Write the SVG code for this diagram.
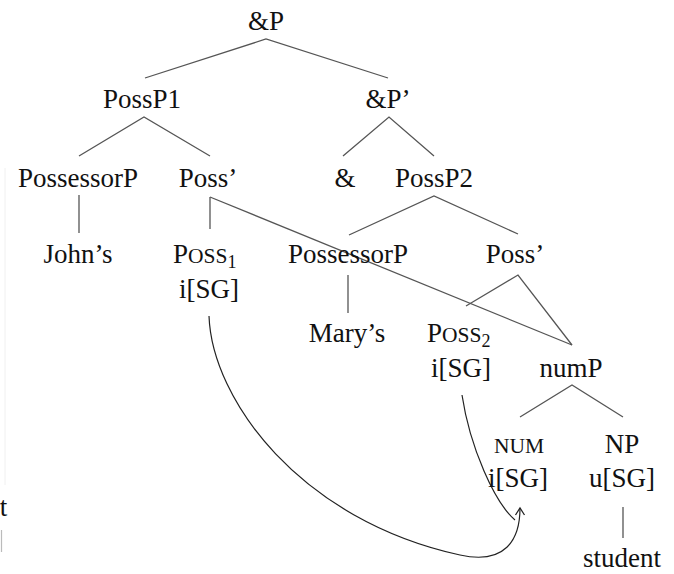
<svg xmlns="http://www.w3.org/2000/svg" width="674" height="574" viewBox="0 0 674 574">
  <style>
    text { font-family: "Liberation Serif", "Times New Roman", serif; font-size: 27px; fill: #111; text-anchor: middle; }
    .sc { font-size: 21.5px; }
    .sub { font-size: 18px; }
    .edge { stroke: #555; stroke-width: 1.3; fill: none; }
    .agree { stroke: #222; stroke-width: 1.2; fill: none; }
  </style>
  <defs>
    <marker id="arrow" markerUnits="userSpaceOnUse" markerWidth="12" markerHeight="12" viewBox="-9 -6 12 12" refX="0" refY="0" orient="auto">
      <path d="M-7,-4.5 L0,0 L-7,4.5" fill="none" stroke="#222" stroke-width="1.3"/>
    </marker>
  </defs>

  <!-- edge of the neighbouring figure -->
  <g id="margin">
    <line x1="5" y1="168" x2="5" y2="485" stroke="#f0f0f0" stroke-width="1"/>
    <text x="3.5" y="516">t</text>
    <line x1="1.5" y1="530" x2="1.5" y2="552" stroke="#bbb" stroke-width="1.2"/>
  </g>

  <g id="connectors">
    <path class="edge" d="M145,78 L266,39 L388,78"/>
    <path class="edge" d="M79,156 L144,117 L210,156"/>
    <path class="edge" d="M343,156 L389,117 L434,156"/>
    <path class="edge" d="M79,195 V233"/>
    <path class="edge" d="M210,197 V229"/>
    <path class="edge" d="M210,197 L572,345"/>
    <path class="edge" d="M349,235 L434,196 L518,234"/>
    <path class="edge" d="M348,275 V313"/>
    <path class="edge" d="M466,306 L518,275 L572,345"/>
    <path class="edge" d="M520,417 L572,385 L623,417"/>
    <path class="edge" d="M623,507 V538"/>
    <!-- agreement arrows -->
    <path class="agree" d="M209,316 C212,400 300,520 460,555 C505,565 520,540 520,508" marker-end="url(#arrow)"/>
    <path class="agree" d="M462,395 C470,448 495,503 515,520"/>
  </g>

  <g id="andP"><text x="266" y="30">&amp;P</text></g>
  <g id="possP1"><text x="142" y="108">PossP1</text></g>
  <g id="andPbar"><text x="388" y="108">&amp;P’</text></g>
  <g id="possessorP1"><text x="78" y="187">PossessorP</text></g>
  <g id="possBar1"><text x="208" y="187">Poss’</text></g>
  <g id="and"><text x="345" y="187">&amp;</text></g>
  <g id="possP2"><text x="434" y="187">PossP2</text></g>
  <g id="johns"><text x="78" y="263">John’s</text></g>
  <g id="poss1">
    <text x="173" y="263" style="text-anchor:start">P<tspan class="sc">OSS</tspan><tspan class="sub" dy="5">1</tspan></text>
    <text x="209" y="298">i[SG]</text>
  </g>
  <g id="possessorP2"><text x="348" y="263">PossessorP</text></g>
  <g id="possBar2"><text x="515" y="263">Poss’</text></g>
  <g id="marys"><text x="347" y="342">Mary’s</text></g>
  <g id="poss2">
    <text x="427" y="342" style="text-anchor:start">P<tspan class="sc">OSS</tspan><tspan class="sub" dy="5">2</tspan></text>
    <text x="461" y="377">i[SG]</text>
  </g>
  <g id="numP"><text x="571" y="377">numP</text></g>
  <g id="num">
    <text x="519" y="453" class="sc">NUM</text>
    <text x="518" y="487">i[SG]</text>
  </g>
  <g id="np">
    <text x="622" y="453">NP</text>
    <text x="622" y="487">u[SG]</text>
  </g>
  <g id="student"><text x="622" y="567">student</text></g>
</svg>
